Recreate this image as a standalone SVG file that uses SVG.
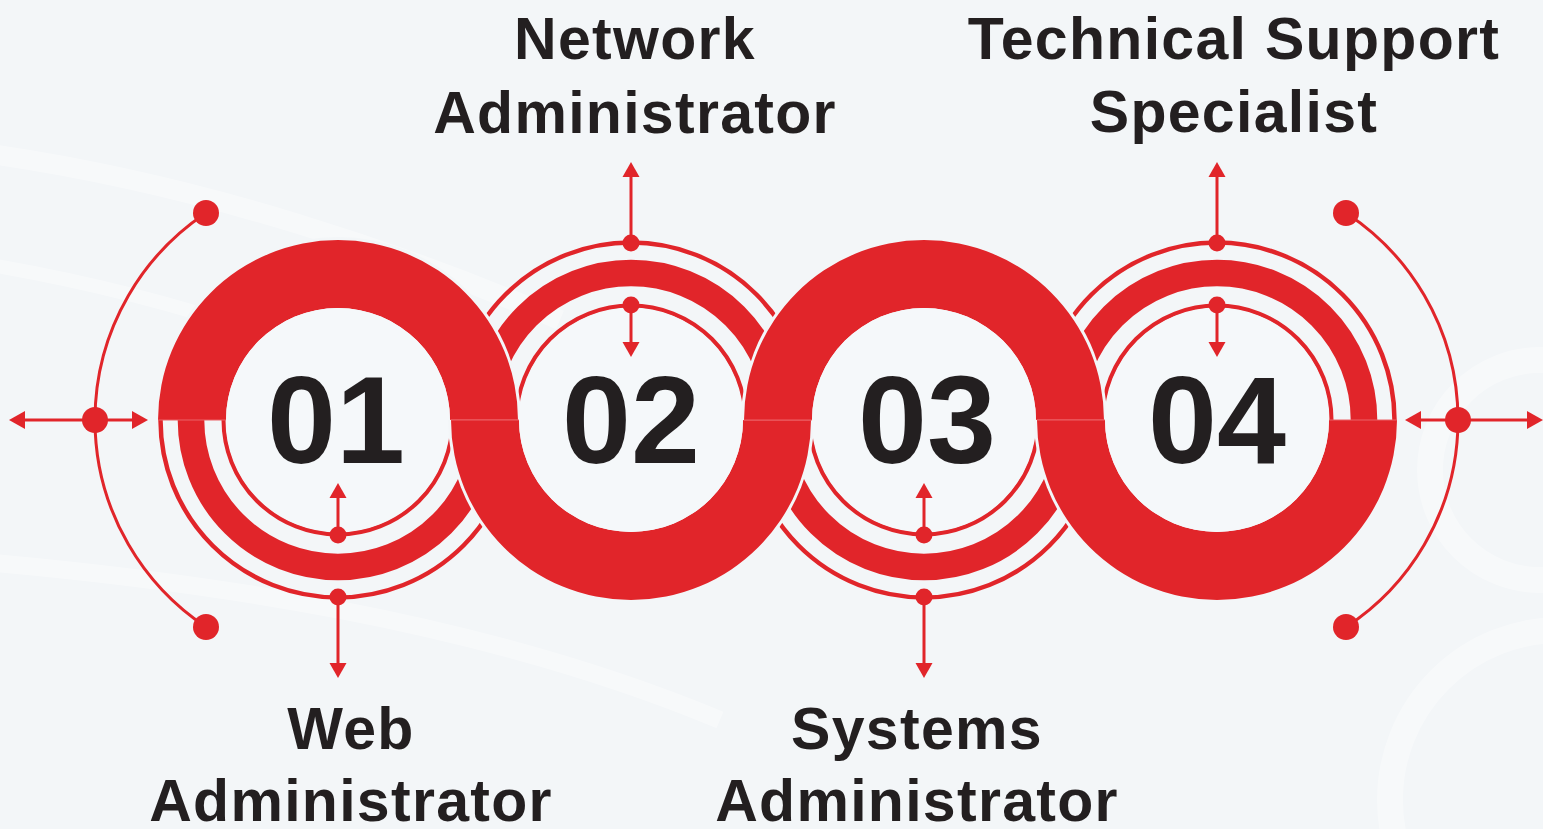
<svg xmlns="http://www.w3.org/2000/svg" xmlns:xlink="http://www.w3.org/1999/xlink" width="1543" height="829" viewBox="0 0 1543 829">
<defs>
<style>
.bg{fill:#f3f6f8}
.ring{fill:none;stroke:#e1252a}
.gap{fill:none;stroke:#f3f6f8;stroke-width:6}
.solid{fill:#e1252a}
.disk{fill:#f5f8fa}
.num{font-family:"Liberation Sans",Arial,sans-serif;font-weight:bold;font-size:124px;fill:#231f20;text-anchor:middle}
.lbl{font-family:"Liberation Sans",Arial,sans-serif;font-weight:bold;font-size:59px;letter-spacing:1.3px;fill:#231f20;text-anchor:middle}
.ln{stroke:#e1252a;stroke-width:3;fill:none}
.dot{fill:#e1252a}
.head{fill:#e1252a}
.seam{stroke:#ec6266;stroke-width:1}
.swoosh{fill:none;stroke:#ffffff;opacity:0.35}
</style>
<g id="ringsBottom">
<path class="ring" stroke-width="4.5" d="M-177.5,0 A177.5,177.5 0 0 0 177.5,0"/>
<path class="ring" stroke-width="26.6" d="M-147,0 A147,147 0 0 0 147,0"/>
<path class="ring" stroke-width="4" d="M-114.5,0 A114.5,114.5 0 0 0 114.5,0"/>
</g>
<g id="ringsTop">
<path class="ring" stroke-width="4.5" d="M-177.5,0 A177.5,177.5 0 0 1 177.5,0"/>
<path class="ring" stroke-width="26.6" d="M-147,0 A147,147 0 0 1 147,0"/>
<path class="ring" stroke-width="4" d="M-114.5,0 A114.5,114.5 0 0 1 114.5,0"/>
</g>
<g id="solidTop">
<path class="gap" d="M-180,0 A180,180 0 0 1 180,0"/>
<path class="solid" d="M-180,0 A180,180 0 0 1 180,0 L112,0 A112,112 0 0 0 -112,0 Z"/>
<circle class="disk" cx="0" cy="0" r="112"/>
<line class="seam" x1="-180" y1="0" x2="-112" y2="0"/>
<line class="seam" x1="112" y1="0" x2="180" y2="0"/>
</g>
<g id="solidBottom">
<path class="gap" d="M-180,0 A180,180 0 0 0 180,0"/>
<path class="solid" d="M-180,0 A180,180 0 0 0 180,0 L112,0 A112,112 0 0 1 -112,0 Z"/>
<circle class="disk" cx="0" cy="0" r="112"/>
<line class="seam" x1="-180" y1="0" x2="-112" y2="0"/>
<line class="seam" x1="112" y1="0" x2="180" y2="0"/>
</g>
</defs>

<rect class="bg" x="0" y="0" width="1543" height="829"/>
<g id="background">
<path class="swoosh" stroke-width="20" d="M-40,150 C200,180 420,260 560,320"/>
<path class="swoosh" stroke-width="14" d="M-40,260 C150,290 300,340 420,400"/>
<path class="swoosh" stroke-width="18" d="M-40,560 C200,580 480,620 720,720"/>
<circle class="swoosh" stroke-width="26" cx="1540" cy="470" r="110"/>
<circle class="swoosh" stroke-width="26" cx="1560" cy="800" r="170"/>
</g>

<g id="rings">
<use xlink:href="#ringsBottom" x="338" y="420"/>
<use xlink:href="#ringsTop" x="631" y="420"/>
<use xlink:href="#ringsBottom" x="924" y="420"/>
<use xlink:href="#ringsTop" x="1217" y="420"/>
</g>

<g id="node-01">
<use xlink:href="#solidTop" x="338" y="420"/>
<text class="num" x="336" y="463">01</text>
<text class="lbl" x="351" y="749">Web</text>
<text class="lbl" x="351" y="821">Administrator</text>
</g>
<g id="node-02">
<use xlink:href="#solidBottom" x="631" y="420"/>
<text class="num" x="631" y="463">02</text>
<text class="lbl" x="635" y="59">Network</text>
<text class="lbl" x="635" y="133">Administrator</text>
</g>
<g id="node-03">
<use xlink:href="#solidTop" x="924" y="420"/>
<text class="num" x="927" y="463">03</text>
<text class="lbl" x="917" y="749">Systems</text>
<text class="lbl" x="917" y="821">Administrator</text>
</g>
<g id="node-04">
<use xlink:href="#solidBottom" x="1217" y="420"/>
<text class="num" x="1217" y="463">04</text>
<text class="lbl" x="1234" y="59">Technical Support</text>
<text class="lbl" x="1234" y="132">Specialist</text>
</g>

<g id="connectors">
<path class="ln" d="M206,213 A248.5,248.5 0 0 0 206,627"/>
<line class="ln" x1="24" y1="420" x2="133" y2="420"/>
<polygon class="head" points="9,420 25,411 25,429"/>
<polygon class="head" points="148,420 132,411 132,429"/>
<circle class="dot" cx="206" cy="213" r="13"/>
<circle class="dot" cx="95" cy="420" r="13"/>
<circle class="dot" cx="206" cy="627" r="13"/>
<path class="ln" d="M1346,213 A247.3,247.3 0 0 1 1346,627"/>
<line class="ln" x1="1420" y1="420" x2="1529" y2="420"/>
<polygon class="head" points="1405,420 1421,411 1421,429"/>
<polygon class="head" points="1543,420 1527,411 1527,429"/>
<circle class="dot" cx="1346" cy="213" r="13"/>
<circle class="dot" cx="1458" cy="420" r="13"/>
<circle class="dot" cx="1346" cy="627" r="13"/>
<line class="ln" x1="338" y1="535" x2="338" y2="497"/>
<polygon class="head" points="338,483 329.5,498 346.5,498"/>
<circle class="dot" cx="338" cy="535" r="8.5"/>
<line class="ln" x1="338" y1="597" x2="338" y2="664"/>
<polygon class="head" points="338,678 329.5,663 346.5,663"/>
<circle class="dot" cx="338" cy="597" r="8.5"/>
<line class="ln" x1="631" y1="243" x2="631" y2="176"/>
<polygon class="head" points="631,162 622.5,177 639.5,177"/>
<circle class="dot" cx="631" cy="243" r="8.5"/>
<line class="ln" x1="631" y1="305" x2="631" y2="343"/>
<polygon class="head" points="631,357 622.5,342 639.5,342"/>
<circle class="dot" cx="631" cy="305" r="8.5"/>
<line class="ln" x1="924" y1="535" x2="924" y2="497"/>
<polygon class="head" points="924,483 915.5,498 932.5,498"/>
<circle class="dot" cx="924" cy="535" r="8.5"/>
<line class="ln" x1="924" y1="597" x2="924" y2="664"/>
<polygon class="head" points="924,678 915.5,663 932.5,663"/>
<circle class="dot" cx="924" cy="597" r="8.5"/>
<line class="ln" x1="1217" y1="243" x2="1217" y2="176"/>
<polygon class="head" points="1217,162 1208.5,177 1225.5,177"/>
<circle class="dot" cx="1217" cy="243" r="8.5"/>
<line class="ln" x1="1217" y1="305" x2="1217" y2="343"/>
<polygon class="head" points="1217,357 1208.5,342 1225.5,342"/>
<circle class="dot" cx="1217" cy="305" r="8.5"/>
</g>
</svg>
